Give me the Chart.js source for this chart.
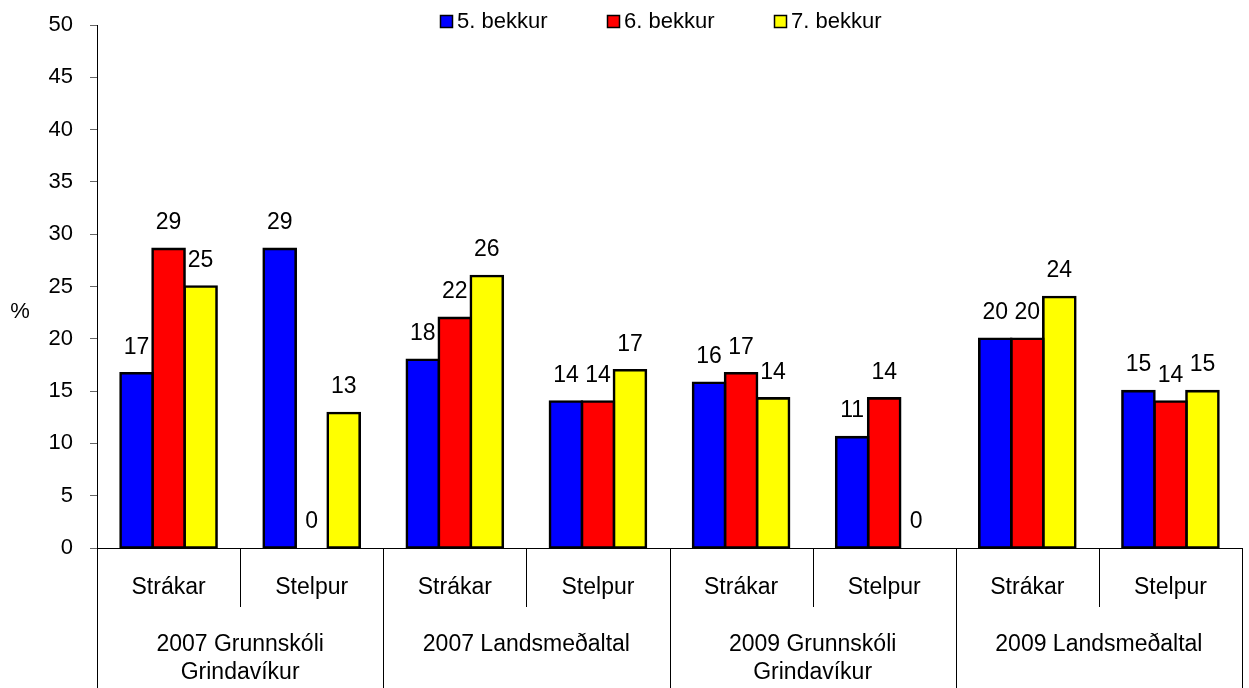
<!DOCTYPE html>
<html lang="is">
<head>
<meta charset="utf-8">
<title>Bekkir</title>
<script src="https://cdn.jsdelivr.net/npm/chart.js@4.4.1/dist/chart.umd.min.js"></script>
<style>
  html, body { margin: 0; padding: 0; background: #fff; }
  #wrap { position: relative; width: 1249px; height: 688px; }
</style>
</head>
<body>
<div id="wrap"><canvas id="chart"></canvas></div>
<script>
// ── Gögn ──
const categories = ['Strákar', 'Stelpur', 'Strákar', 'Stelpur', 'Strákar', 'Stelpur', 'Strákar', 'Stelpur'];
const groups = [['2007 Grunnskóli', 'Grindavíkur'], '2007 Landsmeðaltal', ['2009 Grunnskóli', 'Grindavíkur'], '2009 Landsmeðaltal'];
const seriesNames = ['5. bekkur', '6. bekkur', '7. bekkur'];
const seriesColors = ['#0000FF', '#FF0000', '#FFFF00'];
const grade5 = [16.7, 28.6, 18.0, 14.0, 15.8, 10.6, 20.0, 15.0];
const grade6 = [28.6, 0, 22.0, 14.0, 16.7, 14.3, 20.0, 14.0];
const grade7 = [25.0, 12.9, 26.0, 17.0, 14.3, 0, 24.0, 15.0];
const yMin = 0, yMax = 50, yStep = 5;
const yTitle = '%';

const FONT = '"Liberation Sans", Arial, sans-serif';
Chart.defaults.font.family = FONT;
Chart.defaults.color = '#000';

// ── Tölur ofan á súlum ──
const barLabels = {
    id: 'barLabels',
    afterDatasetsDraw(chart) {
        const ctx = chart.ctx;
        ctx.save();
        ctx.font = '23px ' + FONT;
        ctx.fillStyle = '#000';
        ctx.textAlign = 'center';
        ctx.textBaseline = 'middle';
        chart.data.datasets.forEach((ds, di) => {
            chart.getDatasetMeta(di).data.forEach((bar, i) => {
                ctx.fillText(String(Math.round(ds.data[i])), bar.x, bar.y - 26);
            });
        });
        ctx.restore();
    }
};

// ── Skilalínur á flokkaás, % og skýringar ──
const extras = {
    id: 'extras',
    afterDraw(chart) {
        const ctx = chart.ctx;
        const xs = chart.scales.x;
        const bottom = chart.chartArea.bottom;
        ctx.save();
        ctx.strokeStyle = '#000';
        ctx.lineWidth = 1;
        for (let i = 0; i <= categories.length; i++) {
            const px = Math.round(xs.getPixelForValue(i - 0.5)) + 0.5;
            ctx.beginPath();
            ctx.moveTo(px, bottom);
            ctx.lineTo(px, i % 2 === 0 ? chart.height : bottom + 59);
            ctx.stroke();
        }

        ctx.font = '22px ' + FONT;
        ctx.fillStyle = '#000';
        ctx.textAlign = 'center';
        ctx.textBaseline = 'middle';
        ctx.fillText(yTitle, 20, 312);

        // skýringar
        const pitch = 167, box = 13, gap = 4;
        const lastW = box + gap + ctx.measureText(seriesNames[2]).width;
        let x = Math.round(661 - (2 * pitch + lastW) / 2);
        ctx.textAlign = 'left';
        ctx.textBaseline = 'alphabetic';
        chart.data.datasets.forEach(ds => {
            ctx.fillStyle = ds.backgroundColor;
            ctx.fillRect(x, 15, box, box);
            ctx.lineWidth = 1.5;
            ctx.strokeRect(x + 0.5, 15.5, box - 1, box - 1);
            ctx.fillStyle = '#000';
            ctx.fillText(ds.label, x + box + gap, 28);
            x += pitch;
        });
        ctx.restore();
    }
};

const datasets = [grade5, grade6, grade7].map((values, i) => ({
    label: seriesNames[i],
    data: values,
    backgroundColor: seriesColors[i],
    borderColor: '#000',
    borderWidth: c => (c.raw === 0 ? 0 : 2.6),
    inflateAmount: c => (c.raw === 0 ? 0 : 1.3),
    borderSkipped: false,
    categoryPercentage: 0.671,
    barPercentage: 1
}));

new Chart(document.getElementById('chart'), {
    type: 'bar',
    data: { labels: categories, datasets },
    options: {
        responsive: true,
        maintainAspectRatio: false,
        animation: false,
        layout: { padding: { top: 25, right: 7, bottom: 0, left: 0 } },
        plugins: { legend: { display: false }, tooltip: { enabled: false } },
        scales: {
            x: {
                grid: { display: false, drawTicks: false },
                border: { display: true, color: '#000', width: 1 },
                ticks: { font: { size: 23 }, padding: 26, color: '#000', maxRotation: 0, autoSkip: false },
                afterFit: s => { s.height = 59; }
            },
            x2: {
                type: 'category',
                position: 'bottom',
                labels: groups,
                offset: true,
                grid: { display: false, drawTicks: false },
                border: { display: false },
                ticks: { font: { size: 23 }, padding: 24, color: '#000', maxRotation: 0, autoSkip: false },
                afterFit: s => { s.height = 81; }
            },
            y: {
                min: yMin,
                max: yMax,
                ticks: { stepSize: yStep, font: { size: 22 }, padding: 17, color: '#000' },
                grid: { drawOnChartArea: false, tickLength: 7, tickColor: '#666' },
                border: { display: true, color: '#000', width: 1 },
                afterFit: s => { s.width = 97; s.paddingTop = 0; s.paddingBottom = 0; }
            }
        }
    },
    plugins: [barLabels, extras]
});
</script>
</body>
</html>
